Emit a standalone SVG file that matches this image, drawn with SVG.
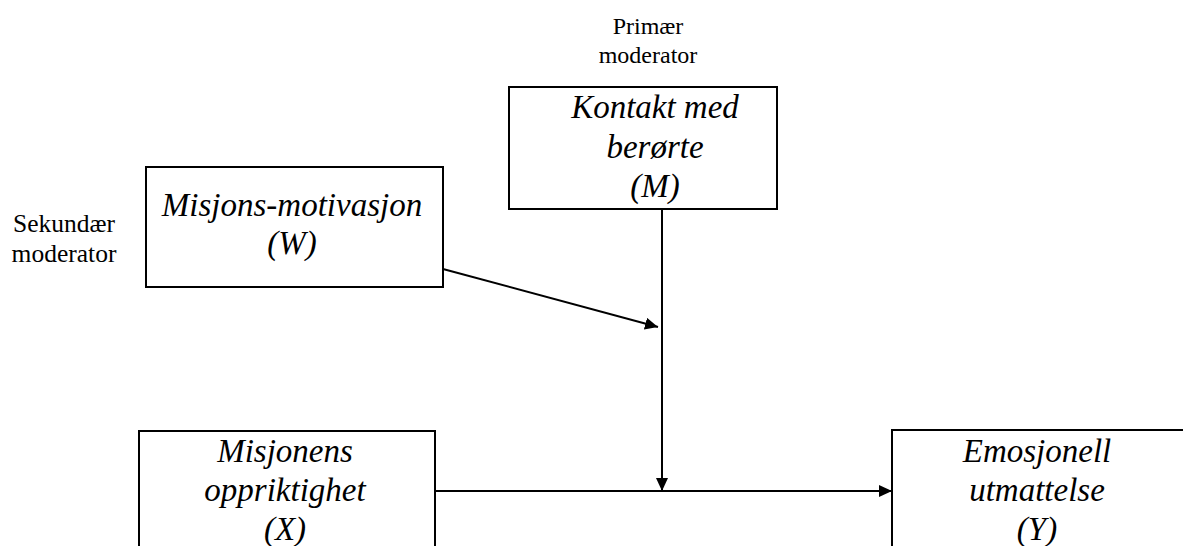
<svg xmlns="http://www.w3.org/2000/svg" width="1183" height="546" viewBox="0 0 1183 546">
<style>
.box{fill:#fff;stroke:#000;stroke-width:2}
.t{font-family:"Liberation Serif","Times New Roman",serif;font-style:italic;font-size:33px;text-anchor:middle;fill:#000}
.lbl{font-family:"Liberation Serif","Times New Roman",serif;font-size:24px;text-anchor:middle;fill:#000}
.c{stroke:#000;stroke-width:2;fill:none;marker-end:url(#ah)}
</style>
<defs>
<marker id="ah" markerUnits="userSpaceOnUse" markerWidth="14" markerHeight="12" refX="13" refY="6" orient="auto">
<path d="M0,0 L13,6 L0,12 Z" fill="#000"/>
</marker>
</defs>
<rect width="1183" height="546" fill="#fff"/>
<g id="label-primary">
<text class="lbl" x="648" y="34">Primær</text>
<text class="lbl" x="648" y="63">moderator</text>
</g>
<g id="label-secondary">
<text class="lbl" x="64" y="232" style="font-size:25.5px">Sekundær</text>
<text class="lbl" x="64" y="262" style="font-size:25.5px">moderator</text>
</g>
<g id="node-M">
<rect class="box" x="509" y="87" width="268" height="122"/>
<text class="t" x="655" y="118">Kontakt med</text>
<text class="t" x="655" y="158">berørte</text>
<text class="t" x="655" y="197">(M)</text>
</g>
<g id="node-W">
<rect class="box" x="146" y="167" width="297" height="120"/>
<text class="t" x="292" y="216">Misjons-motivasjon</text>
<text class="t" x="292" y="254">(W)</text>
</g>
<g id="node-X">
<rect class="box" x="139" y="431" width="296" height="130"/>
<text class="t" x="285" y="462">Misjonens</text>
<text class="t" x="285" y="501">oppriktighet</text>
<text class="t" x="285" y="540">(X)</text>
</g>
<g id="node-Y">
<rect class="box" x="892" y="430" width="296" height="130"/>
<text class="t" x="1037" y="462">Emosjonell</text>
<text class="t" x="1037" y="501">utmattelse</text>
<text class="t" x="1037" y="540">(Y)</text>
</g>
<g id="connectors">
<line class="c" x1="662" y1="209" x2="662" y2="491"/>
<line class="c" x1="443" y1="269" x2="658" y2="327"/>
<line class="c" x1="435" y1="491" x2="892" y2="491"/>
</g>
</svg>
